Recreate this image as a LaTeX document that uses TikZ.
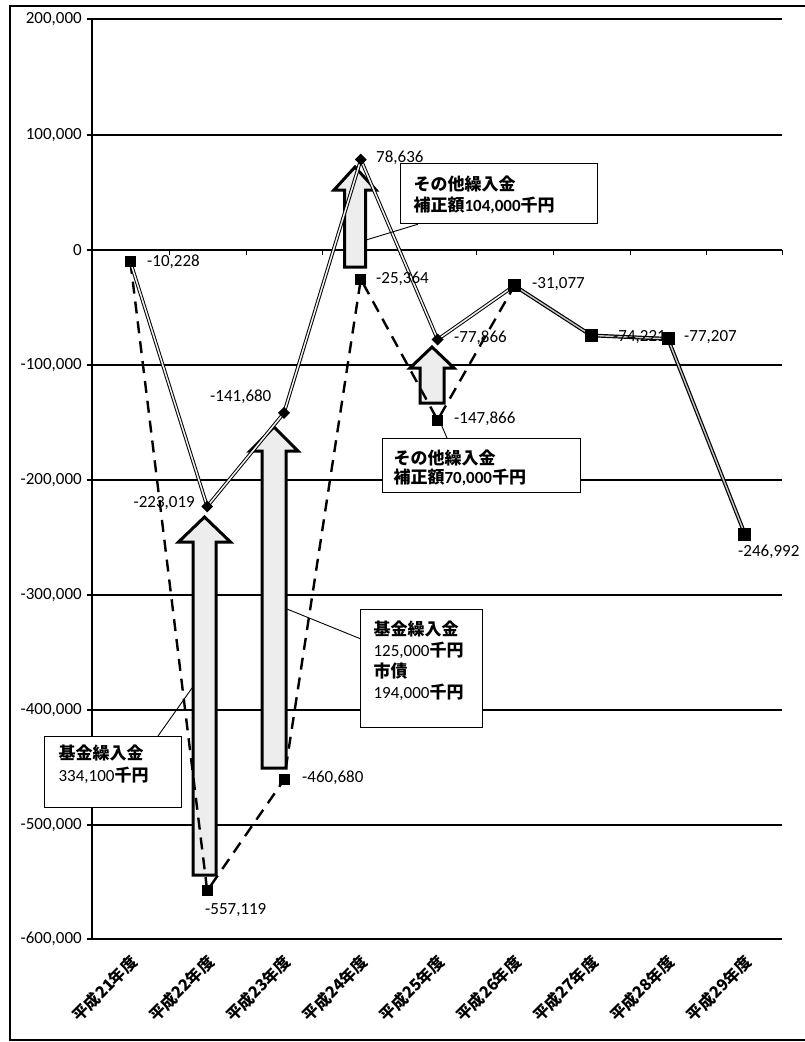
\documentclass[tikz,border=0pt]{standalone}
\usepackage{fontspec}
\setmainfont{Carlito}
\newfontfamily\jp{Noto Sans CJK JP}
\usetikzlibrary{shapes.geometric}
\newcommand\J[1]{{\jp\bfseries #1}}
\begin{document}
\begin{tikzpicture}[x=1pt,y=-1pt,
  grid/.style={line width=1.3pt, draw=black},
  serA/.style={draw=black, line width=1pt, double=gray!10, double distance=1.5pt, line join=round},
  serAd/.style={draw=black, line width=1.2pt, double=gray!45, double distance=1.4pt, line join=round},
  serB/.style={draw=black, line width=2.4pt, dash pattern=on 12pt off 8pt},
  blk/.style={draw=black, line width=3pt, fill=gray!14, line join=miter},
  sqm/.style={rectangle, fill=black, minimum size=11pt, inner sep=0pt},
  bigsq/.style={rectangle, fill=black, minimum size=13pt, inner sep=0pt},
  dm/.style={diamond, fill=black, minimum size=12pt, inner sep=0pt},
  val/.style={font=\fontsize{17}{20}\selectfont, inner sep=0pt},
  cat/.style={font=\jp\bfseries\fontsize{16}{18}\selectfont, rotate=45, anchor=east, inner sep=0pt},
  callout/.style={draw=black, line width=1.2pt, fill=white, anchor=north west, inner ysep=0pt, align=left, font=\fontsize{17}{21}\selectfont},
  lead/.style={draw=black, line width=0.9pt}
]
\useasboundingbox (0,0) rectangle (805,1042);
\fill[white] (0,0) rectangle (805,1042);
% outer frame
\draw[line width=1.3pt] (805,6) -- (10,6) -- (10,1040) -- (805,1040);

% gridlines and axis
\foreach \yy/\lab in {19/{200,000},135/{100,000},250/0,365/{-100,000},480/{-200,000},595/{-300,000},710/{-400,000},825/{-500,000},939/{-600,000}}{
  \draw[grid] (87,\yy) -- (782,\yy);
  \node[val, anchor=east] at (82,\yy) {\lab};
}
\draw[grid] (92,19) -- (92,939);
\foreach \xx in {169.2,246,322.8,399.6,476.4,553.2,630,706.8,782}{
  \draw[line width=1pt] (\xx,250) -- (\xx,255);
}

% block arrows
\draw[blk] (193,875) -- (193,542) -- (178.5,542) -- (204.5,517) -- (230.5,542) -- (216,542) -- (216,875) -- cycle;
\draw[blk] (262,768) -- (262,451) -- (250,451) -- (274,427) -- (298,451) -- (286,451) -- (286,768) -- cycle;
\draw[blk] (344.5,267) -- (344.5,190) -- (334,190) -- (355,167) -- (376,190) -- (365.5,190) -- (365.5,267) -- cycle;
\draw[blk] (420,403) -- (420,368) -- (410,368) -- (432,347) -- (454,368) -- (444,368) -- (444,403) -- cycle;
\coordinate (ar1) at (192,688);
\coordinate (ar2) at (287,609);
\coordinate (ar3) at (366,240);
\coordinate (ar4) at (441,424);

% data points
\coordinate (p1) at (130.4,261.8);
\coordinate (p2) at (207.2,506.5);
\coordinate (p3) at (284,412.9);
\coordinate (p4) at (360.8,159.6);
\coordinate (p5) at (437.6,339.5);
\coordinate (p6) at (514.4,285.7);
\coordinate (p7) at (591.2,335.4);
\coordinate (p8) at (668,338.8);
\coordinate (p9) at (744.8,534.0);
\coordinate (q2) at (207.2,890.7);
\coordinate (q3) at (284,779.8);
\coordinate (q4) at (360.8,279.2);
\coordinate (q5) at (437.6,420.0);

% series lines
\draw[serB] (p1) -- (q2) -- (q3) -- (q4) -- (q5) -- (p6);
\draw[serA] (p1) -- (p2) -- (p3) -- (p4) -- (p5) -- (p6);
\draw[serAd] (p6) -- (p7) -- (p8) -- (p9);

% markers
\node[sqm] (m1) at (p1) {};
\node[dm] (m2) at (p2) {};
\node[dm] (m3) at (p3) {};
\node[dm] (m4) at (p4) {};
\node[dm] (m5) at (p5) {};
\node[bigsq] (m6) at (p6) {};
\node[bigsq] (m7) at (p7) {};
\node[bigsq] (m8) at (p8) {};
\node[bigsq] (m9) at (p9) {};
\node[sqm] (n2) at (q2) {};
\node[sqm] (n3) at (q3) {};
\node[sqm] (n4) at (q4) {};
\node[sqm] (n5) at (q5) {};

% value labels
\node[val, anchor=west] (v1) at (147,262) {-10,228};
\node[val, anchor=east] (v2) at (195,503) {-223,019};
\node[val, anchor=west] (v3) at (210,397) {-141,680};
\node[val, anchor=west] (v4) at (376,158) {78,636};
\node[val, anchor=west] (v5) at (454,338) {-77,866};
\node[val, anchor=west] (v6) at (532,284) {-31,077};
\node[val, anchor=west] (v7) at (613,337) {-74,221};
\node[val, anchor=west] (v8) at (684,337) {-77,207};
\node[val, anchor=west] (v9) at (738,552) {-246,992};
\node[val, anchor=west] (w2) at (205,910) {-557,119};
\node[val, anchor=west] (w3) at (302,778) {-460,680};
\node[val, anchor=west] (w4) at (376,279) {-25,364};
\node[val, anchor=west] (w5) at (454,419) {-147,866};

% category labels
\foreach \xx/\t in {130.4/21,207.2/22,284/23,360.8/24,437.6/25,514.4/26,591.2/27,668/28,744.8/29}{
  \node[cat] at (\xx+4,959) {平成\t 年度};
}

% callouts
\node[callout, inner xsep=13pt, text width=171pt] (bA) at (400,163)
  {\parbox[c][60pt][t]{171pt}{\vspace*{12pt}\J{その他繰入金}\\\J{補正額}\textbf{104,000}\J{千円}}};
\node[callout, inner xsep=11pt, text width=176pt] (bB) at (382,438)
  {\parbox[c][54pt][t]{176pt}{\baselineskip=19pt\vspace*{11pt}\J{その他繰入金}\\\J{補正額}\textbf{70,000}\J{千円}}};
\node[callout, inner xsep=13pt, text width=96pt] (bC) at (360,609)
  {\parbox[c][118pt][t]{96pt}{\vspace*{11pt}\J{基金繰入金}\\125,000\J{千円}\\\J{市債}\\194,000\J{千円}}};
\node[callout, inner xsep=14pt, text width=109pt] (bD) at (44,736)
  {\parbox[c][71pt][t]{109pt}{\baselineskip=22pt\vspace*{8pt}\J{基金繰入金}\\334,100\J{千円}}};

% leader lines
\draw[lead] (bA.south west) ++(18,0) coordinate (la) (la) -- (ar3);
\draw[lead] (bB.north west) ++(65,0) coordinate (lb) (lb) -- (ar4);
\draw[lead] (bC.west) ++(0,-30) coordinate (lc) (lc) -- (ar2);
\draw[lead] (bD.north west) ++(114,0) coordinate (ld) (ld) -- (ar1);
\end{tikzpicture}
\end{document}
